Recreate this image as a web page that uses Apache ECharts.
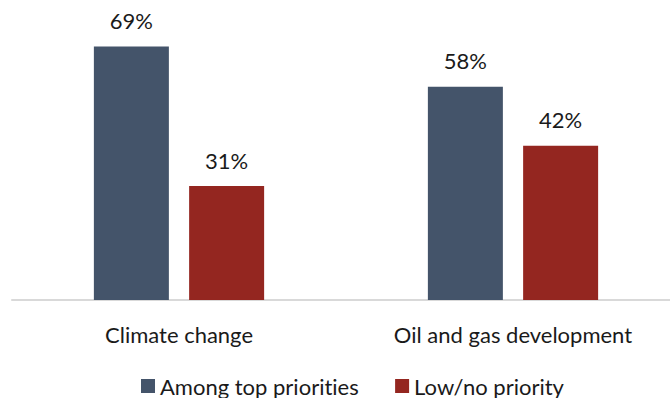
<!DOCTYPE html>
<html>
<head>
<meta charset="utf-8">
<script src="https://cdn.jsdelivr.net/npm/echarts@6/dist/echarts.min.js"></script>
<style>
  html, body { margin: 0; padding: 0; background: #fff; overflow: hidden; }
  #chart { width: 680px; height: 398px; }
  #chart text { font-variant-ligatures: none; font-feature-settings: "liga" 0; }
</style>
</head>
<body>
<div id="chart"></div>
<script>
const categories = ['Climate change', 'Oil and gas development'];
const seriesNames = ['Among top priorities', 'Low/no priority'];
const topPriority = [69, 58];
const lowPriority = [31, 42];

const font = 'Lato';
// svg renderer so the css above can switch off the "ti" ligature
const chart = echarts.init(document.getElementById('chart'), null, { renderer: 'svg' });

const labelStyle = {
  show: true,
  position: 'top',
  distance: 15,
  formatter: '{c}%',
  color: '#1a1a1a',
  fontFamily: font,
  fontSize: 22
};

chart.setOption({
  animation: false,
  grid: { left: 12, right: 0, top: 6, height: 294 },
  legend: {
    top: 370,
    left: 136,
    itemWidth: 14,
    itemHeight: 14,
    itemGap: 36,
    icon: 'rect',
    textStyle: { color: '#1a1a1a', fontFamily: font, fontSize: 22 },
    data: seriesNames
  },
  xAxis: {
    type: 'category',
    data: categories,
    axisLine: { lineStyle: { color: '#d9d9d9', width: 2 } },
    axisTick: { show: false },
    axisLabel: { color: '#1a1a1a', fontFamily: font, fontSize: 22, margin: 23 }
  },
  yAxis: {
    type: 'value',
    min: 0,
    max: 80,
    show: false
  },
  series: [
    {
      name: seriesNames[0],
      type: 'bar',
      data: topPriority,
      barWidth: 75,
      barGap: '27%',
      itemStyle: { color: '#44546a' },
      label: labelStyle
    },
    {
      name: seriesNames[1],
      type: 'bar',
      data: lowPriority,
      barWidth: 75,
      itemStyle: { color: '#942620' },
      label: labelStyle
    }
  ]
});
</script>
</body>
</html>
